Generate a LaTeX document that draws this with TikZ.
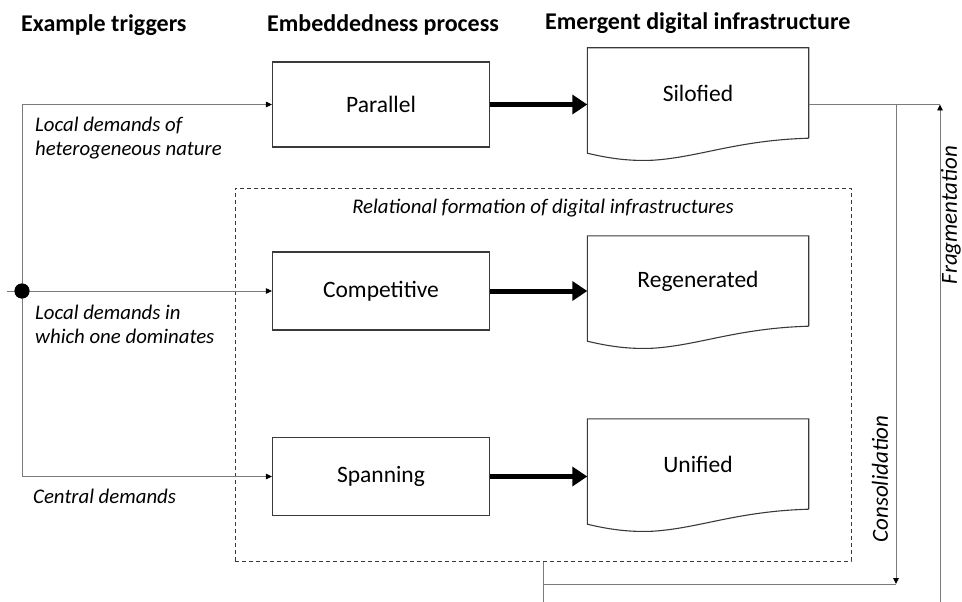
\documentclass[tikz,border=0pt]{standalone}
\usepackage{fontspec}
\setmainfont{Carlito}
\usetikzlibrary{arrows.meta,calc}
\definecolor{conn}{HTML}{7A7A7A}
\definecolor{boxc}{HTML}{3A3A3A}
\tikzset{
  procbox/.style={draw=boxc, line width=1.1pt, rectangle, minimum width=217pt, inner sep=0pt, font=\fontsize{23.5}{27}\selectfont},
  docnode/.style={rectangle, minimum width=221pt, minimum height=90pt, inner sep=0pt, font=\fontsize{23.5}{27}\selectfont},
  docline/.style={draw=boxc, line width=1.1pt, line join=miter},
  thickarrow/.style={line width=5pt, -{Triangle[length=15pt,width=19pt]}},
  thinline/.style={draw=conn, line width=0.9pt},
  thinarrow/.style={thinline, -{Triangle[length=6pt,width=5.5pt,color=black]}},
  title/.style={font=\fontsize{24}{28}\bfseries\selectfont, anchor=base west, inner sep=0pt},
  lbl/.style={font=\fontsize{20.8}{24}\itshape\selectfont, anchor=base west, inner sep=0pt, align=left},
  vlbl/.style={font=\fontsize{23}{27}\itshape\selectfont, rotate=90, inner sep=0pt},
  dashbox/.style={draw=boxc, line width=1pt, dash pattern=on 4pt off 3pt, rectangle, inner sep=0pt, minimum width=616pt, minimum height=373pt},
  junction/.style={circle, fill=black, minimum size=15pt, inner sep=0pt}
}
\begin{document}
\begin{tikzpicture}[x=1pt,y=-1pt]
\useasboundingbox (0,0) rectangle (962,602);
% titles
\node[title] (t1) at (21,32) {Example triggers};
\node[title] (t2) at (267,32) {Embeddedness process};
\node[title] (t3) at (545,30) {Emergent digital infrastructure};
% dashed container
\node[dashbox] (rel) at (543,374.5) {};
\node[lbl, anchor=base] (reltxt) at (543,213) {Relational formation of digital infrastructures};
% process boxes
\node[procbox, minimum height=85pt] (par) at (381,104.5) {Parallel};
\node[procbox, minimum height=78pt] (comp) at (381,291) {Competitive};
\node[procbox, minimum height=78pt] (span) at (381,476.5) {Spanning};
% document nodes
\node[docnode] (silo) at (698,93) {Silofied};
\node[docnode] (regen) at (698,281) {Regenerated};
\node[docnode] (unif) at (698,464) {Unified};
\foreach \d in {silo,regen,unif}{
  \draw[docline] (\d.south east) -- (\d.north east) -- (\d.north west) -- ($(\d.south west)+(0,15)$)
    .. controls ($(\d.south west)+(25,21)$) and ($(\d.south west)+(45,23)$) .. ($(\d.south west)+(66,22)$)
    .. controls ($(\d.south west)+(112,19)$) and ($(\d.south west)+(150,2)$) .. (\d.south east);
}
% thick arrows
\draw[thickarrow] (par.east) -- (par.east -| silo.west);
\draw[thickarrow] (comp.east) -- (comp.east -| regen.west);
\draw[thickarrow] (span.east) -- (span.east -| unif.west);
% left tree
\node[junction] (dot) at (22,291) {};
\coordinate (inp) at (7,291);
\draw[thinline] (inp) -- (dot.center);
\draw[thinarrow] (dot.center) |- (par.west);
\draw[thinarrow] (dot.center) -- (comp.west);
\draw[thinarrow] (dot.center) |- (span.west);
\node[junction] at (dot) {};
% left labels (base = last line)
\node[lbl] (l1) at (35,155) {Local demands of\\heterogeneous nature};
\node[lbl] (l2) at (35,343) {Local demands in\\which one dominates};
\node[lbl] (l3) at (33,503) {Central demands};
% right loop
\coordinate (sout) at (silo.east |- par.east);
\coordinate (ftop) at (940,104.5);
\coordinate (fbot) at (940,602);
\coordinate (ctop) at (896,104.5);
\coordinate (cbot) at (896,584);
\coordinate (rbot) at (543,602);
\draw[thinline] (sout) -- (ftop);
\draw[thinarrow] (fbot) -- (ftop);
\draw[thinarrow] (ctop) -- (cbot);
\draw[thinline] (rel.south) -- (rbot);
\draw[thinline] (rel.south |- cbot) -- (cbot);
\node[vlbl] (frag) at (951,215) {Fragmentation};
\node[vlbl] (cons) at (880,479) {Consolidation};
\end{tikzpicture}
\end{document}
